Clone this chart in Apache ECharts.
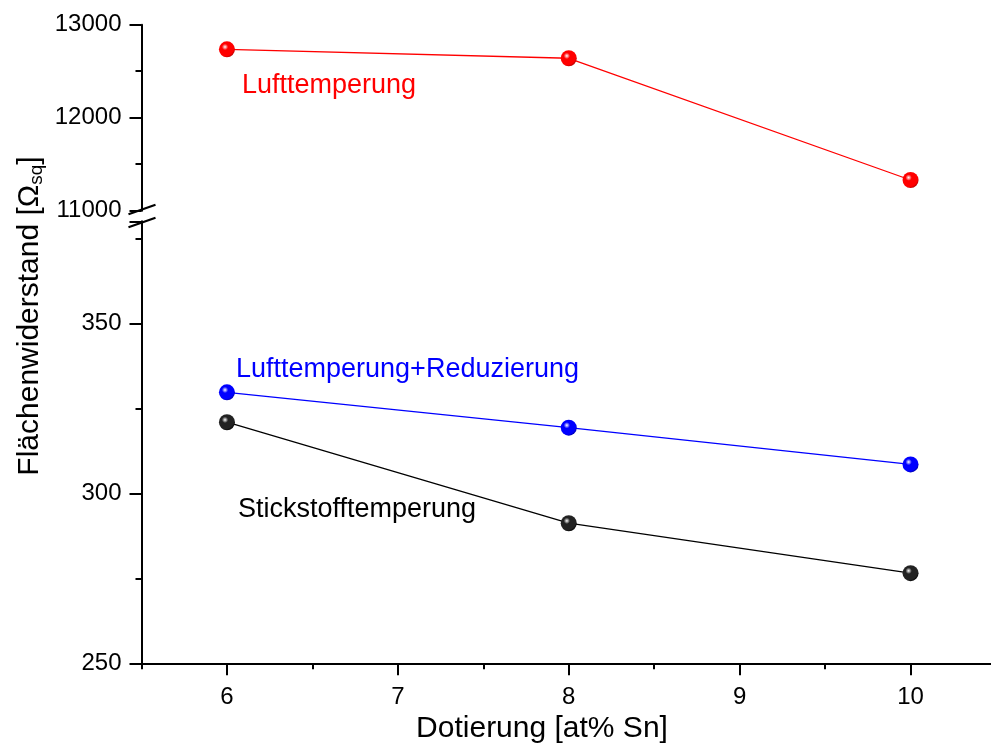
<!DOCTYPE html>
<html>
<head>
<meta charset="utf-8">
<script src="https://cdn.jsdelivr.net/npm/echarts@6/dist/echarts.min.js"></script>
<style>
html,body{margin:0;padding:0;background:#fff;overflow:hidden;width:991px;height:744px;}
#main{width:1000px;height:744px;}
</style>
</head>
<body>
<div id="main"></div>
<script>
// ---- data ----
const xValues = [6, 8, 10];
const luftValues = [12735, 12639, 11330];          // Lufttemperung (upper segment)
const reduValues = [329.7, 319.3, 308.5];          // Lufttemperung+Reduzierung
const stickValues = [320.9, 291.2, 276.5];         // Stickstofftemperung
const seriesNames = ['Lufttemperung', 'Lufttemperung+Reduzierung', 'Stickstofftemperung'];
const xMajorTicks = [6, 7, 8, 9, 10];
const xMinorTicks = [5.5, 6.5, 7.5, 8.5, 9.5, 10.5];
const xTitle = 'Dotierung [at% Sn]';
const yTitle = 'Flächenwiderstand [Ω';
const yTitleSub = 'sq';

const FONT = '"Liberation Sans", Arial, sans-serif';

function sphere(base, dark) {
  return {
    type: 'radial', x: 0.38, y: 0.35, r: 0.7,
    colorStops: [
      { offset: 0, color: '#ffffff' },
      { offset: 0.28, color: base },
      { offset: 0.8, color: base },
      { offset: 1, color: dark }
    ]
  };
}

const chart = echarts.init(document.getElementById('main'), null, { renderer: 'canvas' });

const axisLineStyle = { color: '#000', width: 2 };
const tickStyle = { color: '#000', width: 2 };

function pts(vals) { return xValues.map((x, i) => [x, vals[i]]); }

const option = {
  backgroundColor: '#fff',
  animation: false,
  grid: [
    { left: 141.5, right: 4, top: 24.7, height: 186 },
    { left: 141.5, right: 4, top: 221.3, height: 442 }
  ],
  xAxis: [
    { gridIndex: 0, type: 'value', min: 5.5, max: 10.5, show: false },
    {
      gridIndex: 1, type: 'value', min: 5.5, max: 10.5, interval: 0.5,
      axisLine: { show: true, onZero: false, lineStyle: axisLineStyle },
      axisTick: { show: true, inside: false, length: 12, lineStyle: tickStyle, customValues: xMajorTicks },
      minorTick: { show: false },
      splitLine: { show: false },
      axisLabel: { margin: 22, fontSize: 24, color: '#000', fontFamily: FONT, customValues: xMajorTicks,
        formatter: v => String(v) }
    },
    {
      gridIndex: 1, type: 'value', min: 5.5, max: 10.5, interval: 0.5, position: 'bottom',
      axisLine: { show: false, onZero: false },
      axisTick: { show: true, inside: false, length: 6, lineStyle: tickStyle, customValues: xMinorTicks },
      axisLabel: { show: false },
      splitLine: { show: false }
    }
  ],
  yAxis: [
    {
      gridIndex: 0, type: 'value', min: 11000, max: 13000, interval: 1000,
      axisLine: { show: true, lineStyle: axisLineStyle },
      axisTick: { show: true, length: 12, lineStyle: tickStyle },
      minorTick: { show: true, splitNumber: 2, length: 6, lineStyle: tickStyle },
      splitLine: { show: false },
      axisLabel: { margin: 20, fontSize: 24, color: '#000', fontFamily: FONT, formatter: v => String(v) }
    },
    {
      gridIndex: 1, type: 'value', min: 250, max: 380, interval: 50,
      axisLine: { show: true, lineStyle: axisLineStyle },
      axisTick: { show: true, length: 12, lineStyle: tickStyle },
      minorTick: { show: true, splitNumber: 2, length: 6, lineStyle: tickStyle },
      splitLine: { show: false },
      axisLabel: { margin: 20, fontSize: 24, color: '#000', fontFamily: FONT,
        formatter: v => (v % 50 === 0) ? String(v) : '' }
    }
  ],
  series: [
    {
      name: seriesNames[0], type: 'line', xAxisIndex: 0, yAxisIndex: 0,
      data: pts(luftValues), symbol: 'circle', symbolSize: 16,
      lineStyle: { color: '#ff0000', width: 1.3 },
      itemStyle: { color: sphere('#ff0000', '#b00000') }, z: 3
    },
    {
      name: seriesNames[1], type: 'line', xAxisIndex: 1, yAxisIndex: 1,
      data: pts(reduValues), symbol: 'circle', symbolSize: 16,
      lineStyle: { color: '#0000ff', width: 1.3 },
      itemStyle: { color: sphere('#0000ff', '#0000a0') }, z: 3
    },
    {
      name: seriesNames[2], type: 'line', xAxisIndex: 1, yAxisIndex: 1,
      data: pts(stickValues), symbol: 'circle', symbolSize: 16,
      lineStyle: { color: '#000000', width: 1.3 },
      itemStyle: { color: sphere('#222222', '#000000') }, z: 3
    }
  ]
};
chart.setOption(option);

// Break marks and annotations, positioned from the axes
const pTop = chart.convertToPixel({ gridIndex: 0 }, [5.5, 11000]);
const pBot = chart.convertToPixel({ gridIndex: 1 }, [5.5, 380]);
const ax = pTop[0];

chart.setOption({
  graphic: [
    { type: 'line', shape: { x1: ax - 13, y1: pTop[1] + 3.5, x2: ax + 14, y2: pTop[1] - 6 },
      style: { stroke: '#000', lineWidth: 2.2 }, z: 10 },
    { type: 'line', shape: { x1: ax - 13, y1: pBot[1] + 6, x2: ax + 14, y2: pBot[1] - 3.5 },
      style: { stroke: '#000', lineWidth: 2.2 }, z: 10 },
    { type: 'text', left: 242, top: 72, style: { text: seriesNames[0], fill: '#ff0000', font: '27px ' + FONT } },
    { type: 'text', left: 236, top: 356, style: { text: seriesNames[1], fill: '#0000ff', font: '27px ' + FONT } },
    { type: 'text', left: 238, top: 496, style: { text: seriesNames[2], fill: '#000000', font: '27px ' + FONT } },
    { type: 'text', x: 542, y: 729, style: { text: xTitle, fill: '#000', font: '30px ' + FONT, align: 'center', verticalAlign: 'middle' } },
    {
      type: 'text', x: 30, y: 316, rotation: Math.PI / 2,
      style: {
        text: '{a|' + yTitle + '}{s|' + yTitleSub + '}{a|]}',
        align: 'center', verticalAlign: 'middle',
        rich: {
          a: { fontSize: 30, fontFamily: FONT, fill: '#000' },
          s: { fontSize: 19, fontFamily: FONT, fill: '#000', padding: [14, 0, 0, 0] }
        }
      }
    }
  ]
});
</script>
</body>
</html>
